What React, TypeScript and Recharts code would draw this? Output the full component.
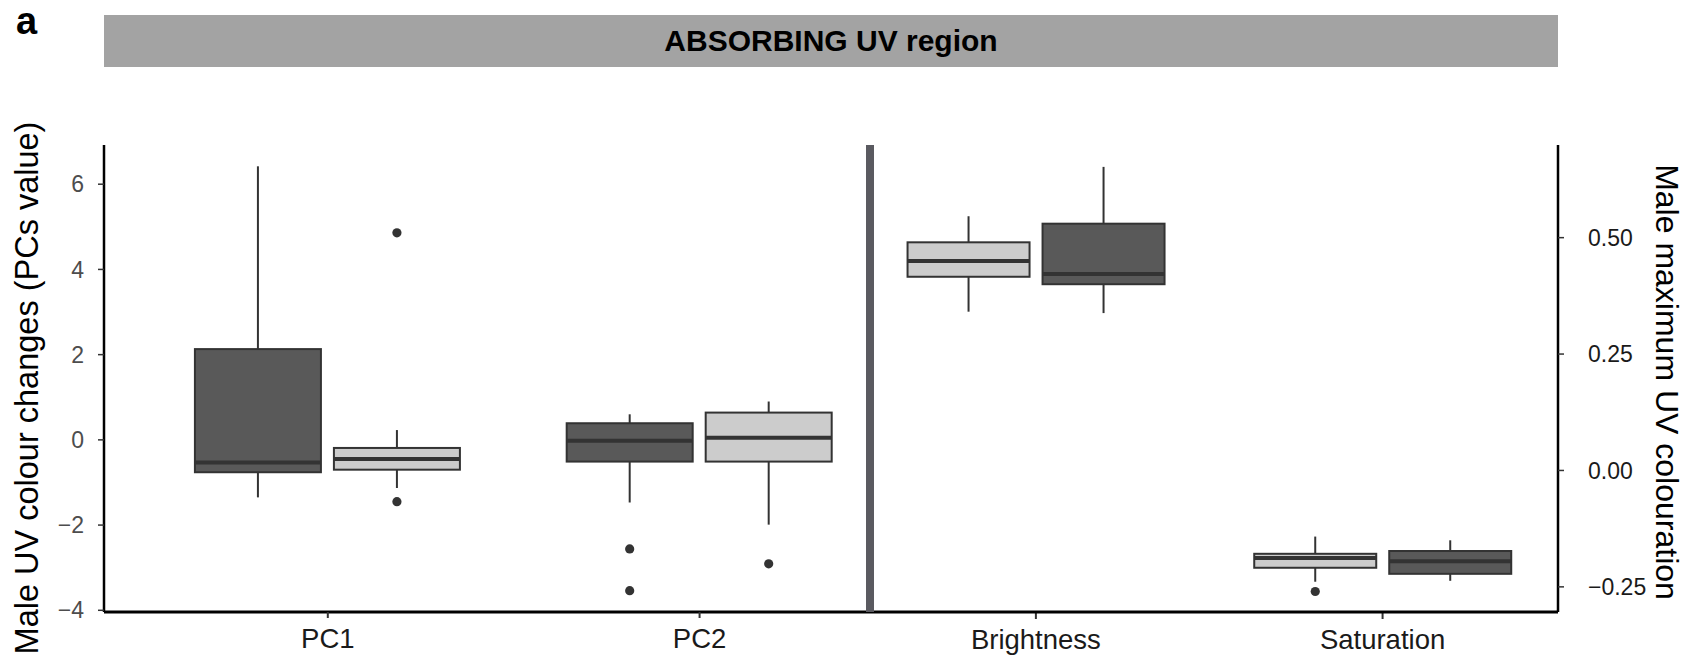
import React from "react";
import { ComposedChart, Bar, XAxis, YAxis } from "recharts";

const FONT = "'Liberation Sans', Arial, Helvetica, sans-serif";

const CATEGORIES = ["PC1", "PC2", "Brightness", "Saturation"];
// PCs are read on the left axis, brightness / saturation on the right one
const PANEL = ["L", "L", "R", "R"];

// left box of each pair
const A_LOW = [-1.35, -1.47, 0.341, -0.239];
const A_Q1 = [-0.76, -0.51, 0.416, -0.209];
const A_MED = [-0.53, -0.02, 0.45, -0.188];
const A_Q3 = [2.13, 0.39, 0.49, -0.179];
const A_HIGH = [6.42, 0.6, 0.546, -0.142];
const A_OUT = [[], [-2.56, -3.54], [], [-0.26]];
const A_TONE = ["dark", "dark", "light", "light"];

// right box of each pair
const B_LOW = [-1.13, -1.99, 0.338, -0.237];
const B_Q1 = [-0.7, -0.51, 0.4, -0.222];
const B_MED = [-0.45, 0.05, 0.422, -0.195];
const B_Q3 = [-0.19, 0.64, 0.53, -0.173];
const B_HIGH = [0.23, 0.9, 0.652, -0.15];
const B_OUT = [[4.86, -1.45], [-2.91], [], []];
const B_TONE = ["light", "light", "dark", "dark"];

const LEFT_TICKS = [-4, -2, 0, 2, 4, 6];
const RIGHT_TICKS = [-0.25, 0, 0.25, 0.5];

const FILLS: Record<string, string> = { dark: "#595959", light: "#cccccc" };
const EDGE = "#333333";

const data = CATEGORIES.map((cat, i) => ({
  cat,
  pos: i,
  panel: PANEL[i],
  a: { low: A_LOW[i], q1: A_Q1[i], med: A_MED[i], q3: A_Q3[i], high: A_HIGH[i], out: A_OUT[i], tone: A_TONE[i] },
  b: { low: B_LOW[i], q1: B_Q1[i], med: B_MED[i], q3: B_Q3[i], high: B_HIGH[i], out: B_OUT[i], tone: B_TONE[i] },
}));

const leftPos = data.filter((d) => d.panel === "L").map((d) => d.pos);
const rightPos = data.filter((d) => d.panel === "R").map((d) => d.pos);

const minus = (s: string) => s.replace("-", "\u2212");

// draws a whole boxplot from the q1..q3 range bar that recharts positions for us
const makeBox = (slot: "a" | "b", panel: string) => (props: any) => {
  const { x, y, width, height, payload } = props;
  if (!payload || payload.panel !== panel) return <g />;
  const s = payload[slot];
  const top = Math.min(y, y + height);
  const bot = Math.max(y, y + height);
  const k = (bot - top) / (s.q3 - s.q1);
  const py = (v: number) => bot - (v - s.q1) * k;
  const cx = x + width / 2;
  return (
    <g>
      <line x1={cx} x2={cx} y1={top} y2={py(s.high)} stroke={EDGE} strokeWidth={2} />
      <line x1={cx} x2={cx} y1={bot} y2={py(s.low)} stroke={EDGE} strokeWidth={2} />
      <rect x={x} y={top} width={width} height={bot - top} fill={FILLS[s.tone]} stroke={EDGE} strokeWidth={2} />
      <line x1={x} x2={x + width} y1={py(s.med)} y2={py(s.med)} stroke={EDGE} strokeWidth={4} />
      {s.out.map((o: number, j: number) => (
        <circle key={j} cx={cx} cy={py(o)} r={4.6} fill={EDGE} />
      ))}
    </g>
  );
};

const xTick = { fontSize: 27.5, fill: "#1a1a1a", fontFamily: FONT };

export default function App() {
  return (
    <div style={{ position: "absolute", left: 0, top: 0, width: 1692, height: 660, background: "#fff", fontFamily: FONT }}>
      <div style={{ position: "absolute", left: 16, top: 0, fontSize: 38, fontWeight: "bold", lineHeight: 1.15 }}>a</div>
      <div
        style={{
          position: "absolute", left: 104, top: 15, width: 1454, height: 52, background: "#a3a3a3",
          display: "flex", alignItems: "center", justifyContent: "center",
          fontSize: 30, fontWeight: "bold", lineHeight: 1, color: "#000",
        }}
      >
        ABSORBING UV region
      </div>

      <ComposedChart width={1692} height={660} data={data} margin={{ top: 145, right: 0, bottom: 0, left: 0 }} barGap={13}>
        <XAxis
          xAxisId="xr"
          dataKey="pos"
          type="number"
          domain={[-0.688, 3.506]}
          allowDataOverflow
          ticks={rightPos}
          tickFormatter={(v: number) => CATEGORIES[v]}
          height={47}
          axisLine={false}
          tickLine={{ stroke: "#333", strokeWidth: 2 }}
          tickSize={6}
          tickMargin={10}
          tick={xTick}
        />
        {/* left panel axis is stacked first; 1px tall so the right one shares its baseline */}
        <XAxis
          xAxisId="xl"
          dataKey="pos"
          type="number"
          domain={[-0.602, 3.309]}
          allowDataOverflow
          ticks={leftPos}
          tickFormatter={(v: number) => CATEGORIES[v]}
          height={1}
          axisLine={{ stroke: "#000", strokeWidth: 3 }}
          tickLine={{ stroke: "#333", strokeWidth: 2 }}
          tickSize={6}
          tickMargin={10}
          tick={xTick}
        />
        <YAxis
          yAxisId="L"
          type="number"
          domain={[-4.04, 6.92]}
          allowDataOverflow
          ticks={LEFT_TICKS}
          width={104}
          axisLine={{ stroke: "#000", strokeWidth: 2.5 }}
          tickLine={{ stroke: "#333", strokeWidth: 1.5 }}
          tickSize={6}
          tickMargin={14}
          tick={{ fontSize: 23, fill: "#4d4d4d", fontFamily: FONT }}
          tickFormatter={(v: number) => minus(String(v))}
        />
        <YAxis
          yAxisId="R"
          orientation="right"
          type="number"
          domain={[-0.304, 0.699]}
          allowDataOverflow
          ticks={RIGHT_TICKS}
          width={134}
          axisLine={{ stroke: "#000", strokeWidth: 2.5 }}
          tickLine={{ stroke: "#333", strokeWidth: 1.5 }}
          tickSize={6}
          tickMargin={24}
          tick={{ fontSize: 23, fill: "#1a1a1a", fontFamily: FONT }}
          tickFormatter={(v: number) => minus(v.toFixed(2))}
        />
        <Bar xAxisId="xl" yAxisId="L" barSize={126} isAnimationActive={false}
          dataKey={(r: any) => (r.panel === "L" ? [r.a.q1, r.a.q3] : null)} shape={makeBox("a", "L")} />
        <Bar xAxisId="xl" yAxisId="L" barSize={126} isAnimationActive={false}
          dataKey={(r: any) => (r.panel === "L" ? [r.b.q1, r.b.q3] : null)} shape={makeBox("b", "L")} />
        <Bar xAxisId="xr" yAxisId="R" barSize={122} isAnimationActive={false}
          dataKey={(r: any) => (r.panel === "R" ? [r.a.q1, r.a.q3] : null)} shape={makeBox("a", "R")} />
        <Bar xAxisId="xr" yAxisId="R" barSize={122} isAnimationActive={false}
          dataKey={(r: any) => (r.panel === "R" ? [r.b.q1, r.b.q3] : null)} shape={makeBox("b", "R")} />
      </ComposedChart>

      {/* panel separator */}
      <div style={{ position: "absolute", left: 866, top: 145, width: 8, height: 467, background: "#5a5a60" }} />

      <div
        style={{
          position: "absolute", left: 27, top: 388, transform: "translate(-50%, -50%) rotate(-90deg)",
          whiteSpace: "nowrap", fontSize: 32.5, lineHeight: 1, color: "#000",
        }}
      >
        Male UV colour changes (PCs value)
      </div>
      <div
        style={{
          position: "absolute", left: 1667, top: 382, transform: "translate(-50%, -50%) rotate(90deg)",
          whiteSpace: "nowrap", fontSize: 32, lineHeight: 1, color: "#000",
        }}
      >
        Male maximum UV colouration
      </div>
    </div>
  );
}
